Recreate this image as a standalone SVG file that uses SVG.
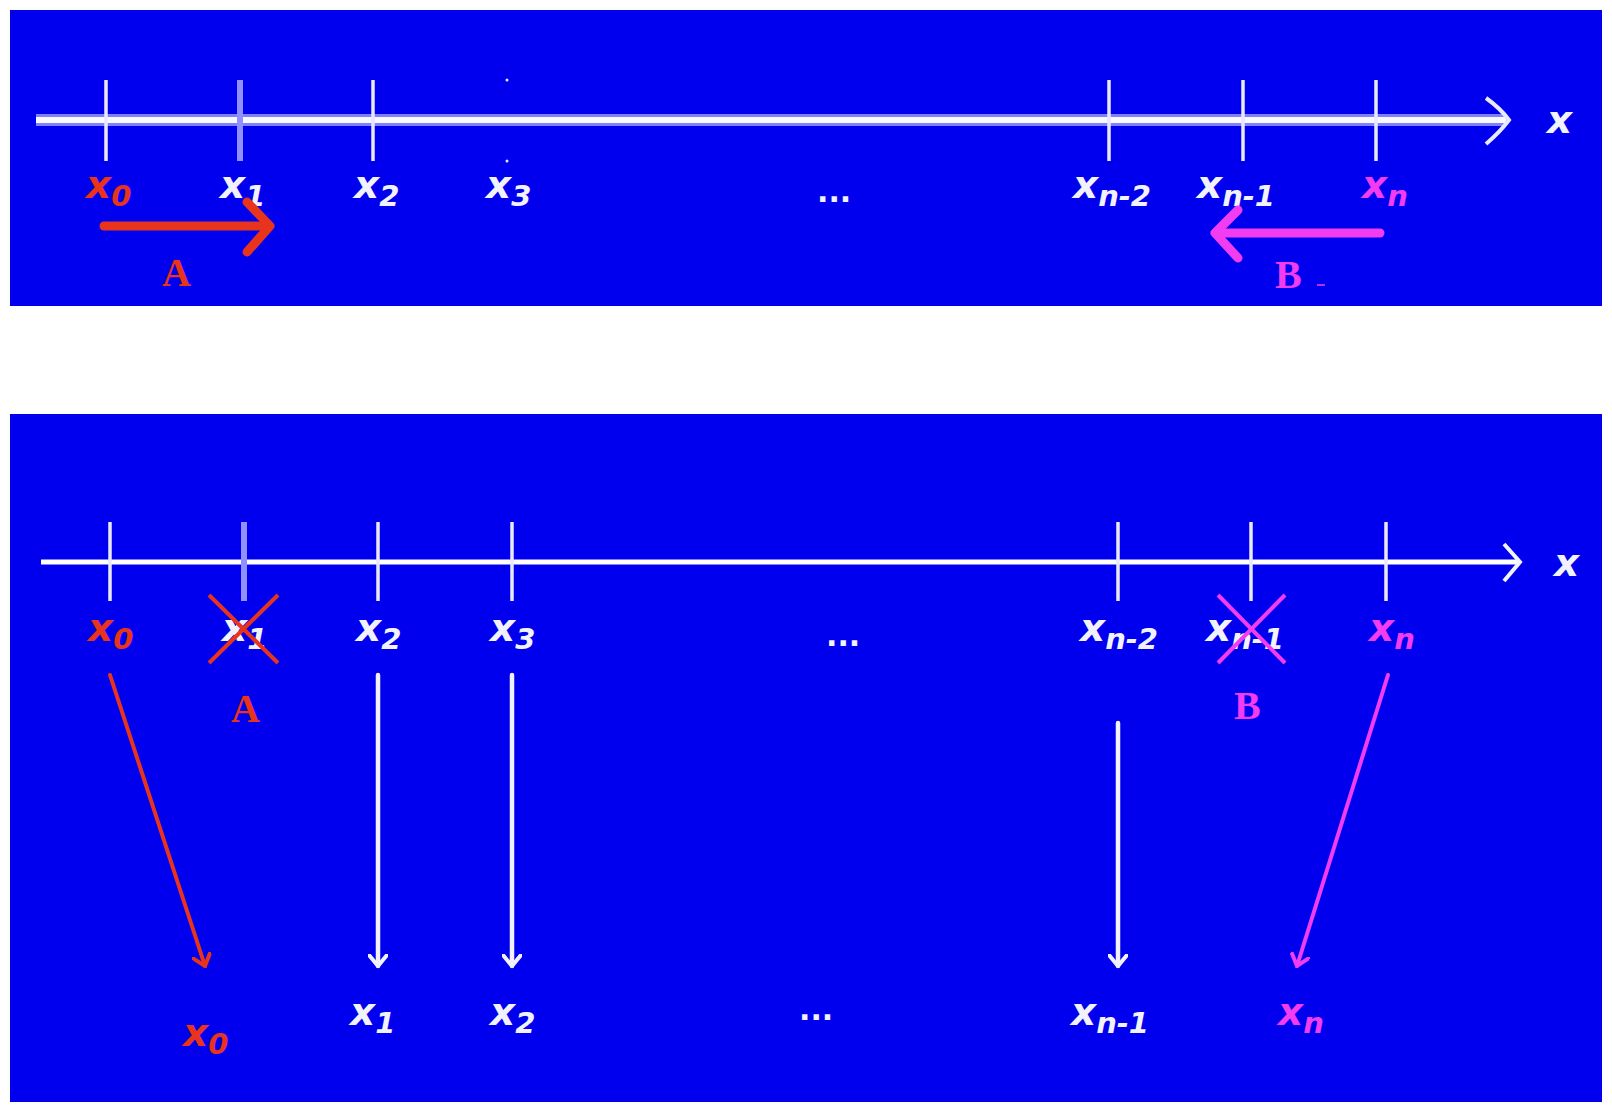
<svg xmlns="http://www.w3.org/2000/svg" width="1612" height="1116" viewBox="0 0 1612 1116">
<defs>
<style>
.bg{fill:#0000EE}
.tick{stroke:#E8E8FF;stroke-width:3.5}
.tickw{stroke:#9090FF;stroke-width:6}
.lbl{font-family:"DejaVu Sans",sans-serif;font-weight:bold;font-style:oblique;font-size:39px}
.sub{font-size:29px}
.w{fill:#F2F2FF}
.r{fill:#E8341C}
.m{fill:#F23CF2}
.cap{font-family:"Liberation Serif",serif;font-weight:bold;font-size:40px}
.dots{font-family:"DejaVu Sans",sans-serif;font-weight:bold;font-size:30px}
.arrw{stroke:#F2F2FF;stroke-width:4.5;fill:none;stroke-linecap:round}
.arrr{stroke:#E8341C;stroke-width:4;fill:none;stroke-linecap:round}
.arrm{stroke:#F23CF2;stroke-width:4;fill:none;stroke-linecap:round}
</style>
<marker id="hw" viewBox="-12 -10 14 20" refX="0" refY="0" markerWidth="14" markerHeight="20" markerUnits="userSpaceOnUse" orient="auto"><path d="M-11,-9 L0,0 L-11,9" fill="none" stroke="#F2F2FF" stroke-width="4" stroke-linecap="round"/></marker>
<marker id="hr" viewBox="-12 -10 14 20" refX="0" refY="0" markerWidth="14" markerHeight="20" markerUnits="userSpaceOnUse" orient="auto"><path d="M-11,-9 L0,0 L-11,9" fill="none" stroke="#E8341C" stroke-width="4" stroke-linecap="round"/></marker>
<marker id="hm" viewBox="-12 -10 14 20" refX="0" refY="0" markerWidth="14" markerHeight="20" markerUnits="userSpaceOnUse" orient="auto"><path d="M-11,-9 L0,0 L-11,9" fill="none" stroke="#F23CF2" stroke-width="4" stroke-linecap="round"/></marker>
</defs>
<rect width="1612" height="1116" fill="#FFFFFF"/>

<!-- Top panel -->
<g id="top-panel">
<rect class="bg" x="10" y="10" width="1592" height="296"/>
<g id="top-axis">
<line x1="36" y1="120" x2="1506" y2="120" stroke="#8080FF" stroke-width="12"/>
<line x1="36" y1="120" x2="1506" y2="120" stroke="#F8F8FF" stroke-width="6"/>
<path d="M1486,98 Q1500,108 1509,120 Q1500,132 1486,144" fill="none" stroke="#E8E8FF" stroke-width="4"/>
<text class="lbl w" x="1547" y="133" font-size="40">x</text>
</g>
<g id="top-ticks">
<line class="tick" x1="106" y1="80" x2="106" y2="161"/>
<line class="tickw" x1="240" y1="80" x2="240" y2="161"/>
<line class="tick" x1="373" y1="80" x2="373" y2="161"/>
<circle cx="507" cy="80" r="1.5" fill="#E8E8FF"/>
<circle cx="507" cy="161" r="1.5" fill="#E8E8FF"/>
<line class="tick" x1="1109" y1="80" x2="1109" y2="161"/>
<line class="tick" x1="1243" y1="80" x2="1243" y2="161"/>
<line class="tick" x1="1376" y1="80" x2="1376" y2="161"/>
</g>
<g id="top-labels">
<text class="lbl r" x="86" y="198">x<tspan class="sub" dy="8">0</tspan></text>
<text class="lbl w" x="220" y="198">x<tspan class="sub" dy="8">1</tspan></text>
<text class="lbl w" x="354" y="198">x<tspan class="sub" dy="8">2</tspan></text>
<text class="lbl w" x="486" y="198">x<tspan class="sub" dy="8">3</tspan></text>
<text class="dots w" x="817" y="202">...</text>
<text class="lbl w" x="1073" y="198">x<tspan class="sub" dy="8">n-2</tspan></text>
<text class="lbl w" x="1197" y="198">x<tspan class="sub" dy="8">n-1</tspan></text>
<text class="lbl m" x="1362" y="198">x<tspan class="sub" dy="8">n</tspan></text>
</g>
<g id="top-A">
<line x1="104" y1="226" x2="266" y2="226" stroke="#E8341C" stroke-width="9" stroke-linecap="round"/>
<path d="M247,202 L270,226 L247,252" fill="none" stroke="#E8341C" stroke-width="9" stroke-linecap="round" stroke-linejoin="round"/>
<text class="cap r" x="162" y="286">A</text>
</g>
<g id="top-B">
<line x1="1380" y1="233" x2="1218" y2="233" stroke="#F23CF2" stroke-width="9" stroke-linecap="round"/>
<path d="M1238,210 L1215,233 L1238,258" fill="none" stroke="#F23CF2" stroke-width="9" stroke-linecap="round" stroke-linejoin="round"/>
<text class="cap m" x="1275" y="288">B</text>
<line x1="1317" y1="285" x2="1325" y2="285" stroke="#F23CF2" stroke-width="1.5"/>
</g>
</g>

<!-- Bottom panel -->
<g id="bottom-panel">
<rect class="bg" x="10" y="414" width="1592" height="688"/>
<g id="bottom-axis">
<line x1="41" y1="562" x2="1518" y2="562" stroke="#FFFFFF" stroke-width="5"/>
<path d="M1504,544 L1520,562 L1504,581" fill="none" stroke="#F2F2FF" stroke-width="4"/>
<text class="lbl w" x="1554" y="576" font-size="40">x</text>
</g>
<g id="bottom-ticks">
<line class="tick" x1="110" y1="522" x2="110" y2="601"/>
<line class="tickw" x1="244" y1="522" x2="244" y2="601"/>
<line class="tick" x1="378" y1="522" x2="378" y2="601"/>
<line class="tick" x1="512" y1="522" x2="512" y2="601"/>
<line class="tick" x1="1118" y1="522" x2="1118" y2="601"/>
<line class="tick" x1="1251" y1="522" x2="1251" y2="601"/>
<line class="tick" x1="1386" y1="522" x2="1386" y2="601"/>
</g>
<g id="bottom-labels">
<text class="lbl r" x="88" y="641">x<tspan class="sub" dy="8">0</tspan></text>
<text class="lbl w" x="222" y="641">x<tspan class="sub" dy="8">1</tspan></text>
<text class="lbl w" x="356" y="641">x<tspan class="sub" dy="8">2</tspan></text>
<text class="lbl w" x="490" y="641">x<tspan class="sub" dy="8">3</tspan></text>
<text class="dots w" x="826" y="646">...</text>
<text class="lbl w" x="1080" y="641">x<tspan class="sub" dy="8">n-2</tspan></text>
<text class="lbl w" x="1206" y="641">x<tspan class="sub" dy="8">n-1</tspan></text>
<text class="lbl m" x="1369" y="641">x<tspan class="sub" dy="8">n</tspan></text>
</g>
<g id="cross-A">
<line x1="209" y1="595" x2="278" y2="663" stroke="#E8341C" stroke-width="4"/>
<line x1="278" y1="595" x2="209" y2="663" stroke="#E8341C" stroke-width="4"/>
<text class="cap r" x="231" y="722">A</text>
</g>
<g id="cross-B">
<line x1="1218" y1="595" x2="1285" y2="663" stroke="#F23CF2" stroke-width="4"/>
<line x1="1285" y1="595" x2="1218" y2="663" stroke="#F23CF2" stroke-width="4"/>
<text class="cap m" x="1234" y="719">B</text>
</g>
<g id="connectors">
<line class="arrr" x1="110" y1="675" x2="205" y2="966" marker-end="url(#hr)"/>
<line class="arrw" x1="378" y1="675" x2="378" y2="966" marker-end="url(#hw)"/>
<line class="arrw" x1="512" y1="675" x2="512" y2="966" marker-end="url(#hw)"/>
<line class="arrw" x1="1118" y1="723" x2="1118" y2="966" marker-end="url(#hw)"/>
<line class="arrm" x1="1388" y1="675" x2="1297" y2="966" marker-end="url(#hm)"/>
</g>
<g id="result-labels">
<text class="lbl r" x="183" y="1046">x<tspan class="sub" dy="8">0</tspan></text>
<text class="lbl w" x="350" y="1025">x<tspan class="sub" dy="8">1</tspan></text>
<text class="lbl w" x="490" y="1025">x<tspan class="sub" dy="8">2</tspan></text>
<text class="dots w" x="799" y="1020">...</text>
<text class="lbl w" x="1071" y="1025">x<tspan class="sub" dy="8">n-1</tspan></text>
<text class="lbl m" x="1278" y="1025">x<tspan class="sub" dy="8">n</tspan></text>
</g>
</g>
</svg>
